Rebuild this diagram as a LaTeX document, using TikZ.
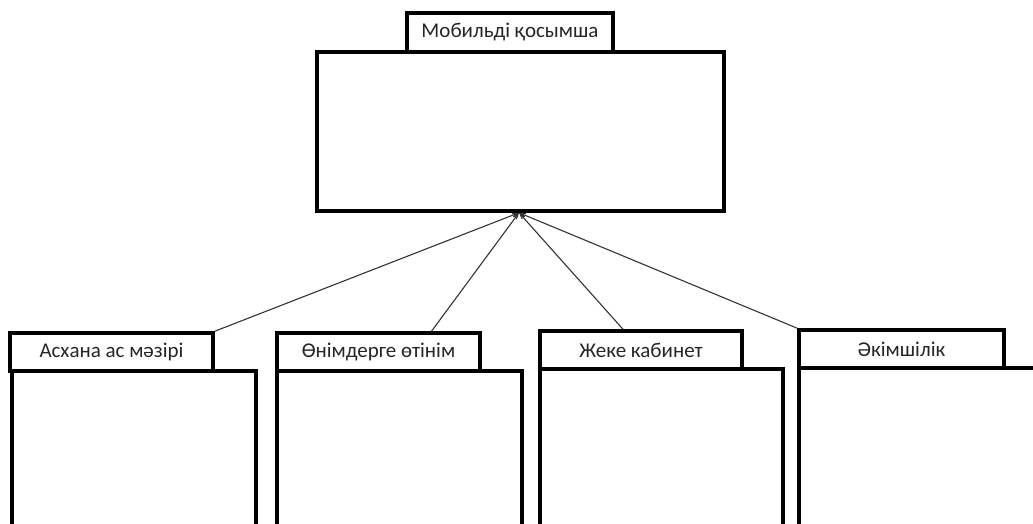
\documentclass[tikz,border=0pt]{standalone}
\usepackage{fontspec}
\setmainfont{Carlito}
\usetikzlibrary{arrows.meta}
\tikzset{
  tabbox/.style={draw=black, line width=3.5pt, fill=white, inner sep=0pt, font=\fontsize{21}{23}\selectfont, text=black!85},
  bodybox/.style={draw=black, line width=3.5pt, inner sep=0pt},
  link/.style={draw=black!80, line width=1.1pt, -{Straight Barb[length=5pt,width=3.5pt]}}
}
\begin{document}
\begin{tikzpicture}[x=1pt,y=-1pt]
\useasboundingbox (0,0) rectangle (1033,524);
\clip (0,0) rectangle (1033,524);
% main
\node[bodybox, minimum width=407pt, minimum height=159pt] (main) at (520.5,131.5) {};
\node[tabbox, minimum width=206pt, minimum height=39pt] (mt) at (510,32.5) {Мобильді қосымша};
% bodies
\node[bodybox, minimum width=244pt, minimum height=200pt] (b1) at (134,471) {};
\node[bodybox, minimum width=245pt, minimum height=200pt] (b2) at (399.5,471) {};
\node[bodybox, minimum width=243pt, minimum height=200pt] (b3) at (661.5,469) {};
\node[bodybox, minimum width=250pt, minimum height=200pt] (b4) at (924,468) {};
% tabs
\node[tabbox, minimum width=203pt, minimum height=38pt] (t1) at (111.5,352) {Асхана ас мәзірі};
\node[tabbox, minimum width=203pt, minimum height=38pt] (t2) at (378.5,352) {Өнімдерге өтінім};
\node[tabbox, minimum width=202pt, minimum height=38pt] (t3) at (641,350) {Жеке кабинет};
\node[tabbox, minimum width=205pt, minimum height=38pt] (t4) at (901.5,349) {Әкімшілік};
% connectors
\coordinate (apex) at (519,212);
\draw[link] (t1.north east) -- (main.south -| apex);
\draw[link] ([xshift=53pt]t2.north) -- (main.south -| apex);
\draw[link] ([xshift=-18pt]t3.north) -- (main.south -| apex);
\draw[link] (t4.north west) -- (main.south -| apex);
\end{tikzpicture}
\end{document}
